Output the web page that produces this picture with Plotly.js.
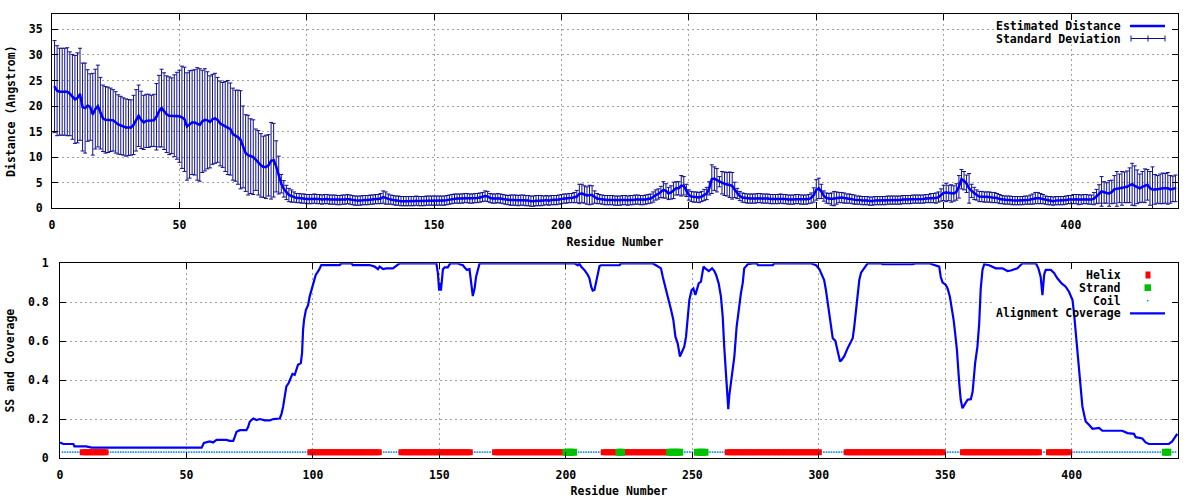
<!DOCTYPE html>
<html><head><meta charset="utf-8">
<script src="https://cdn.plot.ly/plotly-3.0.1.min.js"></script>
<style>html,body{margin:0;padding:0;background:#fff}#chart{width:1200px;height:500px}</style>
</head><body><div id="chart"></div>
<script>
// ---------- DATA ----------
// Estimated distance (Angstrom) per residue 1..441
const distMean = [
23.8,23.0,22.8,22.8,22.8,22.8,22.4,21.8,21.3,21.6,
22.3,19.8,19.6,20.1,19.8,18.4,19.4,20.0,18.6,17.6,
17.3,17.3,17.3,17.2,16.8,16.4,16.2,16.0,15.8,15.8,
15.8,16.3,17.2,18.1,17.3,16.8,17.1,17.1,17.1,17.2,
17.9,19.0,19.6,19.0,18.4,18.1,18.1,18.1,18.1,18.0,
17.8,17.4,16.0,16.4,16.8,16.8,16.5,16.3,17.0,17.3,
17.2,16.9,17.4,17.6,17.3,16.6,16.3,16.0,15.8,15.5,
14.5,14.2,13.9,13.4,12.0,10.8,10.4,10.2,10.0,9.5,
8.9,8.4,8.1,8.1,8.4,9.3,9.4,8.2,6.5,4.8,
3.8,3.1,2.6,2.4,2.2,2.0,2.0,1.9,1.9,1.8,
1.8,1.8,1.9,1.8,1.8,1.7,1.8,1.8,1.7,1.7,
1.7,1.6,1.6,1.7,1.7,1.8,1.7,1.6,1.5,1.5,
1.5,1.6,1.6,1.6,1.7,1.7,1.8,1.8,1.9,2.2,
2.0,1.8,1.7,1.6,1.5,1.5,1.4,1.4,1.4,1.4,
1.4,1.4,1.5,1.4,1.4,1.4,1.5,1.5,1.5,1.5,
1.5,1.5,1.5,1.5,1.6,1.7,1.8,1.9,1.9,1.9,
1.9,2.0,2.0,1.9,1.9,2.0,2.0,2.1,2.2,2.4,
2.3,2.0,1.9,1.9,2.0,1.9,1.8,1.7,1.6,1.6,
1.6,1.6,1.5,1.6,1.6,1.5,1.5,1.4,1.4,1.5,
1.5,1.5,1.5,1.6,1.5,1.6,1.6,1.6,1.7,1.8,
1.9,1.9,2.0,2.0,2.1,2.3,2.8,2.9,2.7,2.5,
2.6,2.6,2.2,1.9,1.8,1.7,1.6,1.6,1.6,1.6,
1.5,1.5,1.5,1.6,1.6,1.5,1.6,1.6,1.7,1.7,
1.6,1.6,1.7,1.8,1.9,2.2,2.6,2.8,3.2,3.6,
3.4,2.9,3.1,3.5,3.9,3.9,4.4,4.4,3.5,2.6,
2.3,2.2,2.2,2.1,2.3,2.6,2.9,3.9,5.7,5.8,
5.5,5.2,5.0,4.8,4.7,4.6,4.4,3.6,2.9,2.4,
2.1,2.0,1.9,1.9,1.9,1.9,2.0,2.0,1.9,1.9,
1.9,1.8,1.8,1.8,1.8,1.9,1.8,1.8,1.7,1.7,
1.7,1.8,1.8,1.7,1.7,1.7,1.8,2.0,2.6,3.6,
3.9,3.3,2.4,2.0,1.9,1.8,1.9,2.0,2.1,2.1,
2.0,1.9,1.9,1.8,1.7,1.6,1.6,1.5,1.5,1.5,
1.4,1.4,1.5,1.5,1.5,1.5,1.5,1.6,1.6,1.6,
1.6,1.6,1.6,1.7,1.7,1.7,1.7,1.8,1.8,1.8,
1.8,1.8,1.9,1.9,2.0,2.0,2.0,2.2,2.6,3.0,
3.1,3.0,2.9,2.9,3.2,4.2,5.7,5.4,4.8,3.9,
3.4,2.9,2.6,2.3,2.3,2.2,2.2,2.2,2.1,2.1,
2.0,1.8,1.7,1.6,1.6,1.6,1.5,1.5,1.5,1.5,
1.5,1.6,1.6,1.7,1.8,2.0,2.0,1.9,1.8,1.6,
1.5,1.5,1.4,1.5,1.5,1.5,1.5,1.6,1.7,1.7,
1.8,1.8,1.7,1.7,1.8,1.8,1.7,1.7,1.9,2.3,
2.8,3.3,3.1,3.0,2.9,3.2,3.7,3.8,3.9,3.9,
4.1,4.2,4.5,4.7,4.4,4.2,3.9,4.2,4.4,4.6,
3.9,3.7,3.7,3.7,3.8,3.9,3.9,3.9,3.7,3.8,3.9
];
// Standard deviation per residue 1..441
const distSD = [
9.0,8.8,8.5,8.5,8.5,8.6,8.2,8.3,8.6,8.8,
9.0,8.6,8.8,7.0,6.5,8.0,7.8,8.0,7.0,6.5,
6.5,6.4,6.2,6.0,6.0,5.8,5.7,5.6,5.6,5.5,
5.4,5.8,6.0,6.0,5.6,5.3,5.2,5.2,5.0,5.1,
6.5,7.0,7.6,7.5,7.5,7.6,7.4,8.0,8.5,9.0,
10.0,10.2,10.5,10.5,10.2,10.3,11.0,11.0,10.0,10.0,
9.5,9.0,8.8,8.8,8.3,8.3,8.3,8.8,9.2,9.0,
9.0,8.9,9.2,9.6,8.0,7.5,7.8,7.3,7.3,6.0,
6.3,6.2,6.0,6.2,6.0,7.5,7.2,5.0,3.7,1.8,
1.6,1.4,1.3,1.2,1.0,0.9,0.9,0.9,0.9,0.9,
0.9,0.9,0.9,0.9,0.9,0.9,0.9,0.9,0.9,0.9,
0.9,0.9,0.9,0.9,0.9,0.9,0.9,0.9,0.9,0.9,
0.9,0.9,0.9,0.9,0.9,0.9,0.9,0.9,1.0,1.2,
1.2,1.0,0.9,0.9,0.9,0.9,0.9,0.9,0.9,0.9,
0.9,0.9,0.9,0.9,0.9,0.9,0.9,0.9,0.9,0.9,
0.9,0.9,0.9,0.9,0.9,0.9,0.9,0.9,0.9,0.9,
0.9,0.9,0.9,0.9,0.9,0.9,0.9,0.9,0.9,1.0,
1.0,0.9,0.9,0.9,0.9,0.9,0.9,0.9,0.9,1.0,
1.0,1.0,1.0,1.0,1.0,1.0,1.0,1.0,1.0,1.0,
1.0,1.0,0.9,0.9,0.9,0.9,0.9,0.9,0.9,0.9,
0.9,0.9,0.9,0.9,1.0,1.2,1.9,1.8,1.7,1.7,
1.9,1.8,1.2,1.0,0.9,0.9,0.9,0.9,0.9,0.9,
0.9,0.9,0.9,0.9,0.9,0.9,0.9,0.9,0.9,0.9,
0.9,0.9,0.9,0.9,0.9,1.0,1.0,1.0,1.1,1.6,
1.4,1.2,1.3,1.6,1.3,1.3,2.0,1.8,1.2,1.0,
1.0,1.0,1.0,1.0,1.0,1.1,1.2,1.3,2.8,2.3,
2.3,1.0,2.2,2.3,2.3,2.5,2.6,1.5,1.0,0.9,
0.9,0.9,0.9,0.9,0.9,0.9,0.9,0.9,0.9,0.9,
0.9,0.9,0.9,0.9,0.9,0.9,0.9,0.9,0.9,0.9,
0.9,0.9,0.9,0.9,0.9,0.9,0.9,1.0,1.4,2.0,
2.0,1.4,1.0,1.0,1.0,1.2,1.4,1.2,1.0,1.0,
1.0,0.9,0.9,0.9,0.9,0.8,0.8,0.8,0.8,0.8,
0.8,0.8,0.8,0.8,0.8,0.8,0.8,0.8,0.8,0.8,
0.8,0.8,0.8,0.8,0.8,0.8,0.8,0.8,0.8,0.8,
0.8,0.8,0.8,0.8,0.9,0.9,1.0,1.0,1.2,1.5,
1.8,1.5,1.7,1.5,1.6,2.2,1.9,1.8,1.7,2.9,
1.3,1.2,1.0,1.0,1.0,1.0,1.0,1.0,1.0,1.0,
0.9,0.9,0.8,0.8,0.8,0.8,0.8,0.8,0.8,0.8,
0.8,0.8,0.8,0.9,1.0,1.1,1.1,1.0,0.9,0.8,
0.8,0.8,0.8,0.8,0.8,0.8,0.8,0.8,0.8,0.8,
0.9,0.9,1.0,0.9,0.9,0.9,0.9,0.9,1.2,1.4,
1.8,2.9,2.1,2.0,2.5,2.3,2.7,3.4,2.8,3.3,
3.0,3.1,3.4,4.1,3.9,3.3,2.8,3.0,3.3,3.0,
3.3,4.4,2.9,2.7,2.9,3.0,2.9,3.1,2.7,2.5,2.6
];
// Secondary structure segments (residue numbers)
const helixStart  = [9, 99, 135, 172, 215, 223, 264, 311, 357, 391];
const helixEnd    = [18, 126, 162, 199, 220, 240, 300, 349, 387, 399];
const strandStart = [200, 221, 241, 252, 437];
const strandEnd   = [203, 222, 245, 255, 438];
// Alignment coverage (residue, fraction)
const covRes = [
0,1.3,5.3,5.7,10.3,12.5,56,56.9,59.2,60.5,
61.9,65.8,67.1,68.5,69.1,69.8,71.1,73.7,74.4,75,
76.4,77.7,79,81,82.9,84.3,86.9,87.6,88.2,88.9,
89.5,90.4,91.1,91.9,92.8,93.5,94.1,95.2,95.7,96.1,
96.5,97.2,98.1,98.7,99.4,100,101.1,102.4,103.3,110.6,
111.2,115.2,115.8,122.4,124.4,125.7,126.4,127.7,129,131.6,
133,134.3,148.8,149.4,149.9,150.3,150.6,151.4,152.1,153.3,
154.3,157.3,158,159.3,159.9,160.9,161.9,162.6,163.2,163.9,
164.5,165.9,203.4,204.7,205.3,206,207.3,208.7,209.3,210,
210.6,211.3,211.9,212.6,213.3,213.9,221.2,221.8,234.3,235.6,
237.6,238.3,239.6,240.6,241.6,242.5,243.3,244.2,245.1,245.9,
246.8,247.5,248.2,248.8,249.7,250.4,251.2,251.7,252.5,253.4,
254.4,255.1,256.5,257.8,258.7,259.4,260.4,261.3,262,262.6,
263.3,264,264.2,264.6,265.3,265.9,266.6,267.5,268.3,269.2,
269.9,270.5,271.9,273.8,275.5,276,281.8,282.4,296.9,298.9,
300.2,301.2,302.1,302.8,303.5,304.1,304.8,305.5,306.5,307.4,
308.4,309.1,310.1,311.4,312.3,313.4,314,314.7,315.3,316,
316.7,318,319.3,324.6,325.2,337.1,338.4,343.6,346.3,347.6,
348.2,348.9,350.2,350.9,351.8,352.6,353.3,353.9,354.6,355.5,
356.1,356.8,357.5,358.8,360.1,360.8,361.8,362.7,363.4,364,
364.7,365.4,367.3,370,372.6,374.6,375.9,378.5,380.5,385.8,
386.8,387.7,388.4,389.1,389.7,391.7,393,394.3,396,397.6,
398.9,400.3,400.9,401.8,402.5,403.1,403.7,404.2,404.9,405.5,
406.8,408.2,410.8,412.1,420,422,424.6,425.3,427.9,429.2,
430.5,438.4,439.7,441.1,441.7
];
const covVal = [
0.08,0.072,0.072,0.06,0.06,0.053,0.053,0.077,0.085,0.08,
0.093,0.093,0.088,0.088,0.109,0.135,0.143,0.143,0.16,0.186,
0.203,0.195,0.2,0.193,0.193,0.2,0.203,0.228,0.263,0.316,
0.368,0.385,0.41,0.432,0.427,0.453,0.479,0.487,0.538,0.658,
0.71,0.76,0.786,0.829,0.863,0.897,0.94,0.966,0.991,0.991,
1.0,1.0,0.991,0.991,0.983,0.97,0.983,0.97,0.974,0.974,
0.99,1.0,1.0,0.95,0.86,0.9,0.86,0.97,0.979,0.979,
1.0,1.0,0.995,0.99,0.979,0.966,0.97,0.906,0.832,0.87,
0.931,1.0,1.0,0.99,1.0,0.983,0.966,0.94,0.923,0.88,
0.86,0.863,0.897,0.94,0.986,0.99,0.99,1.0,1.0,0.99,
0.974,0.931,0.871,0.811,0.76,0.708,0.623,0.589,0.521,0.547,
0.572,0.623,0.708,0.811,0.863,0.871,0.837,0.863,0.897,0.906,
0.983,0.974,0.96,0.974,0.96,0.94,0.897,0.829,0.726,0.572,
0.453,0.333,0.251,0.32,0.385,0.453,0.521,0.674,0.76,0.846,
0.897,0.974,0.995,1.0,1.0,0.99,0.99,1.0,1.0,0.99,
0.97,0.94,0.914,0.863,0.795,0.726,0.658,0.615,0.603,0.555,
0.496,0.505,0.524,0.564,0.589,0.615,0.674,0.76,0.846,0.914,
0.952,0.974,1.0,1.0,0.995,0.995,1.0,1.0,0.99,0.983,
0.931,0.902,0.889,0.871,0.829,0.769,0.708,0.64,0.555,0.385,
0.299,0.256,0.273,0.299,0.302,0.34,0.487,0.572,0.69,0.868,
0.966,0.995,0.99,0.974,0.974,0.96,0.963,0.974,1.0,1.0,
0.974,0.931,0.837,0.943,0.966,0.966,0.95,0.923,0.897,0.88,
0.854,0.811,0.743,0.623,0.504,0.418,0.333,0.265,0.222,0.188,
0.171,0.15,0.155,0.14,0.14,0.128,0.124,0.107,0.1,0.08,
0.072,0.072,0.085,0.109,0.124
];
const xTickVals = [0, 50, 100, 150, 200, 250, 300, 350, 400];

// ---------- STYLE ----------
const FONT = {family: 'DejaVu Sans Mono, monospace', size: 11.5, color: '#000', weight: 'bold'};
const SS_LEVEL = 0.03;
const residues = distMean.map((_, i) => i + 1);
function expand(starts, ends) {
  const out = [];
  starts.forEach((s, k) => { for (let r = s; r <= ends[k]; r++) out.push(r); });
  return out;
}
const helixRes = expand(helixStart, helixEnd);
const strandRes = expand(strandStart, strandEnd);
const ssSet = new Set(helixRes.concat(strandRes));
const coilRes = residues.filter(r => !ssSet.has(r));
const lvl = arr => arr.map(() => SS_LEVEL);

const traces = [
  {x: residues, y: distMean, xaxis: 'x', yaxis: 'y', type: 'scatter', mode: 'markers',
   marker: {size: 2, color: '#10108c'}, showlegend: false, hoverinfo: 'skip',
   error_y: {type: 'data', array: distSD, visible: true, color: '#10108c', thickness: 1, width: 2}},
  {x: residues, y: distMean, xaxis: 'x', yaxis: 'y', type: 'scatter', mode: 'lines',
   line: {color: '#0000ff', width: 2.5}, showlegend: false},
  {x: coilRes, y: lvl(coilRes), xaxis: 'x2', yaxis: 'y2', type: 'scatter', mode: 'markers',
   marker: {symbol: 'square', size: 1.6, color: '#1e90ff'}, showlegend: false},
  {x: helixRes, y: lvl(helixRes), xaxis: 'x2', yaxis: 'y2', type: 'scatter', mode: 'markers',
   marker: {symbol: 'square', size: 6, color: '#ff0000'}, showlegend: false},
  {x: strandRes, y: lvl(strandRes), xaxis: 'x2', yaxis: 'y2', type: 'scatter', mode: 'markers',
   marker: {symbol: 'square', size: 7, color: '#00c000'}, showlegend: false},
  {x: covRes, y: covVal, xaxis: 'x2', yaxis: 'y2', type: 'scatter', mode: 'lines',
   line: {color: '#0000ff', width: 2.2}, showlegend: false}
];

const axisBase = {
  showline: true, linecolor: '#000', linewidth: 1, mirror: 'ticks',
  ticks: 'inside', ticklen: 6, tickcolor: '#000', tickwidth: 1,
  showgrid: true, gridcolor: '#a0a0a0', griddash: '2px,3px', gridwidth: 1,
  zeroline: false, tickfont: FONT, fixedrange: true
};
const ML = 52, MR = 22, MT = 14, MB = 42;
const PW = 1200 - ML - MR, PH = 500 - MT - MB;
const px = v => (v - ML) / PW;
const py = v => (500 - MB - v) / PH;

const annotations = [];
const shapes = [];
function legText(t, y) {
  annotations.push({text: t, xref: 'paper', yref: 'paper', x: px(1123), y: py(y),
    xanchor: 'right', yanchor: 'middle', showarrow: false, font: FONT});
}
// top legend
legText('Estimated Distance', 26);
legText('Standard Deviation', 38.5);
shapes.push({type: 'line', xref: 'paper', yref: 'paper', x0: px(1130), x1: px(1165), y0: py(26), y1: py(26),
  line: {color: '#0000ff', width: 2.5}});
shapes.push({type: 'line', xref: 'paper', yref: 'paper', x0: px(1131), x1: px(1165), y0: py(38.5), y1: py(38.5),
  line: {color: '#10108c', width: 1}});
[1131, 1148, 1165].forEach(xx => shapes.push({type: 'line', xref: 'paper', yref: 'paper',
  x0: px(xx), x1: px(xx), y0: py(35.5), y1: py(41.5), line: {color: '#10108c', width: 1}}));
// bottom legend
legText('Helix', 275);
legText('Strand', 287.7);
legText('Coil', 300.7);
legText('Alignment Coverage', 313.3);
shapes.push({type: 'rect', xref: 'paper', yref: 'paper', x0: px(1145.5), x1: px(1150.5), y0: py(278.5), y1: py(271.5),
  fillcolor: '#ff0000', line: {width: 0}});
shapes.push({type: 'rect', xref: 'paper', yref: 'paper', x0: px(1144.5), x1: px(1151), y0: py(291), y1: py(284.3),
  fillcolor: '#00c000', line: {width: 0}});
shapes.push({type: 'rect', xref: 'paper', yref: 'paper', x0: px(1147), x1: px(1148.5), y0: py(301.5), y1: py(300),
  fillcolor: '#1e90ff', line: {width: 0}});
shapes.push({type: 'line', xref: 'paper', yref: 'paper', x0: px(1130), x1: px(1165), y0: py(313.3), y1: py(313.3),
  line: {color: '#0000ff', width: 2.2}});
// legend background boxes (opaque, above grid, below data) - placed last
shapes.push({type: 'rect', xref: 'x', yref: 'y', x0: 370, x1: 440.8, y0: 32, y1: 37.8,
  fillcolor: '#fff', line: {width: 0}, layer: 'between'});
shapes.push({type: 'rect', xref: 'x2', yref: 'y2', x0: 369.5, x1: 440.8, y0: 0.70, y1: 0.995,
  fillcolor: '#fff', line: {width: 0}, layer: 'between'});

const layout = {
  width: 1200, height: 500, margin: {l: ML, r: MR, t: MT, b: MB},
  paper_bgcolor: '#fff', plot_bgcolor: '#fff', showlegend: false, font: FONT,
  xaxis: Object.assign({}, axisBase, {domain: [0, 1], anchor: 'y', range: [0, 442],
    tickvals: xTickVals, ticklabelstandoff: 6,
    title: {text: 'Residue Number', font: FONT, standoff: 6}}),
  yaxis: Object.assign({}, axisBase, {domain: [0.5624, 1], anchor: 'x', range: [0, 38],
    dtick: 5, tick0: 0, ticklabelstandoff: 6,
    title: {text: 'Distance (Angstrom)', font: FONT, standoff: 10}}),
  xaxis2: Object.assign({}, axisBase, {domain: [(60 - ML) / PW, 1], anchor: 'y2', range: [0, 442],
    tickvals: xTickVals, ticklabelstandoff: 6,
    title: {text: 'Residue Number', font: FONT, standoff: 6}}),
  yaxis2: Object.assign({}, axisBase, {domain: [0, (500 - MB - 263.3) / PH], anchor: 'x2', range: [0, 1],
    dtick: 0.2, tick0: 0, ticklabelstandoff: 8,
    title: {text: 'SS and Coverage', font: FONT, standoff: 10}}),
  annotations: annotations, shapes: shapes
};
Plotly.newPlot('chart', traces, layout, {displayModeBar: false, staticPlot: true});
</script></body></html>
